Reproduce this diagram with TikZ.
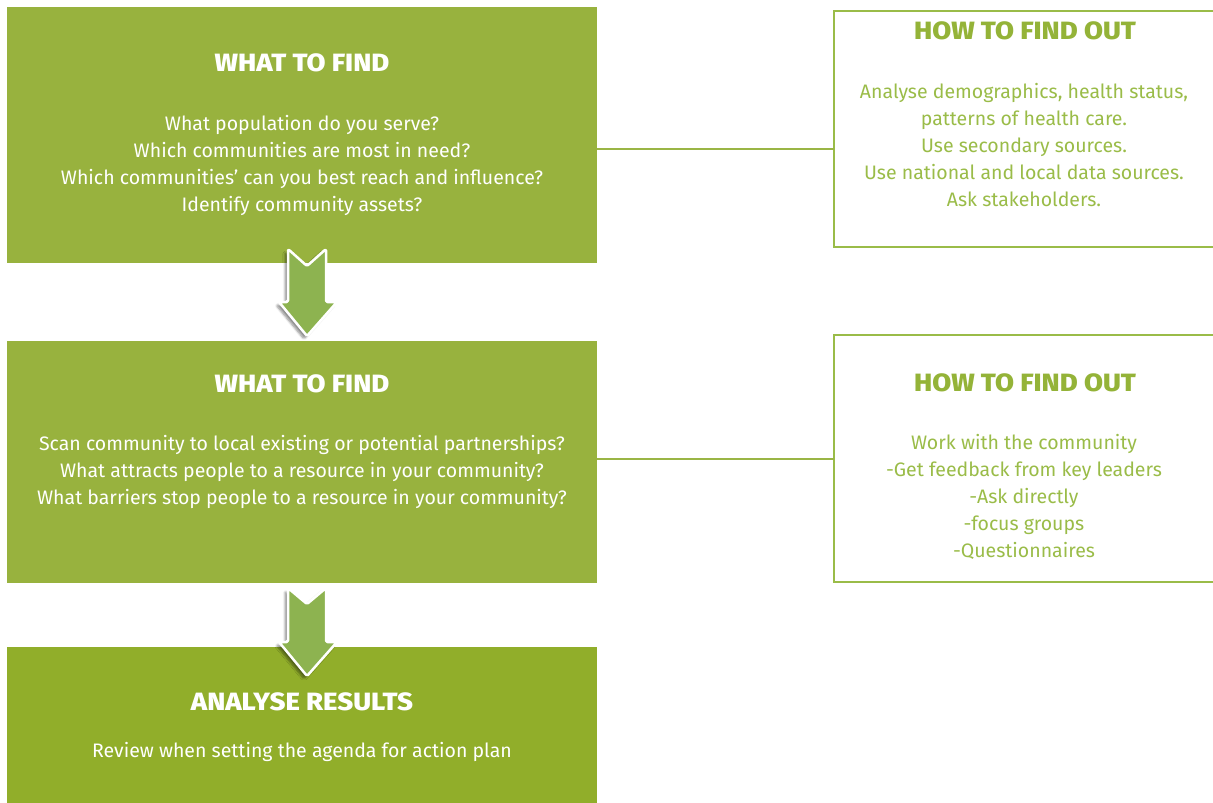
\documentclass[tikz,border=0pt]{standalone}
\usepackage{fontspec}
\setmainfont{Fira Sans}
\newfontfamily\headfont[FakeStretch=1.1]{Fira Sans ExtraBold}
\newfontfamily\bodyfont[FakeStretch=1.0]{Fira Sans}
\usetikzlibrary{shadows,shadows.blur}
\definecolor{boxgreen}{HTML}{98B23E}
\definecolor{boxgreenb}{HTML}{91AE2A}
\definecolor{arrowgreen}{HTML}{8DB350}
\definecolor{linegreen}{HTML}{9AB545}
\definecolor{headgreen}{HTML}{94B338}
\definecolor{txtgreen}{HTML}{9ABC48}
\tikzset{
  findbox/.style={fill=boxgreen, draw=none},
  outbox/.style={draw=txtgreen, line width=1.5pt, fill=white},
  conn/.style={draw=linegreen, line width=2.5pt},
  headw/.style={text=white, font=\headfont\fontsize{25}{28}\selectfont, anchor=center},
  headg/.style={text=headgreen, font=\headfont\fontsize{25}{28}\selectfont, anchor=center},
  bodyw/.style={text=white, font=\bodyfont\fontsize{19.5}{27}\selectfont, align=center, anchor=center},
  bodyg/.style={text=txtgreen, font=\bodyfont\fontsize{19.5}{27}\selectfont, align=center, anchor=center},
  downarrow/.style={fill=arrowgreen, draw=white, line width=2.5pt, rounded corners=1.5pt, line join=round,
     blur shadow={shadow xshift=-3pt, shadow yshift=-3pt, shadow opacity=45, shadow blur steps=6}},
}
\begin{document}
\begin{tikzpicture}[x=1pt,y=-1pt]
\useasboundingbox (0,0) rectangle (1213,803);
% left boxes
\path[findbox] (7,7) rectangle (597,263);
\coordinate (b1e) at (597,149);
\path[findbox] (7,341) rectangle (597,583);
\coordinate (b2e) at (597,459);
\path[fill=boxgreenb] (7,647) rectangle (597,803);
% right boxes
\draw[outbox] (834,11) rectangle (1216,247);
\coordinate (r1w) at (834,149);
\draw[outbox] (834,335) rectangle (1216,582);
\coordinate (r2w) at (834,459);
% connectors
\draw[conn] (b1e) -- (r1w);
\draw[conn] (b2e) -- (r2w);
% arrows
\path[downarrow] (288,249) -- (307,266) -- (326,249) -- (326,302) -- (337,302) -- (307,336) -- (279,302) -- (288,302) -- cycle;
\path[downarrow] (288,588) -- (307,604) -- (326,588) -- (326,642) -- (337,642) -- (307,676) -- (279,642) -- (288,642) -- cycle;
% texts box 1
\node[headw] (h1) at (302,63) {WHAT TO FIND};
\node[bodyw] (t1) at (302,165) {What population do you serve?\\Which communities are most in need?\\Which communities’ can you best reach and influence?\\Identify community assets?};
% box 2
\node[headw] (h2) at (302,384) {WHAT TO FIND};
\node[bodyw] (t2) at (302,472) {Scan community to local existing or potential partnerships?\\What attracts people to a resource in your community?\\What barriers stop people to a resource in your community?};
% box 3
\node[headw] (h3) at (302,702) {ANALYSE RESULTS};
\node[bodyw] (t3) at (302,752) {Review when setting the agenda for action plan};
% right box 1
\node[headg] (h4) at (1025,31) {HOW TO FIND OUT};
\node[bodyg] (t4) at (1024,145) {Analyse demographics, health status,\\patterns of health care.\\Use secondary sources.\\Use national and local data sources.\\Ask stakeholders.};
% right box 2
\node[headg] (h5) at (1025,383) {HOW TO FIND OUT};
\node[bodyg] (t5) at (1024,497) {Work with the community\\-Get feedback from key leaders\\-Ask directly\\-focus groups\\-Questionnaires};
\end{tikzpicture}
\end{document}
